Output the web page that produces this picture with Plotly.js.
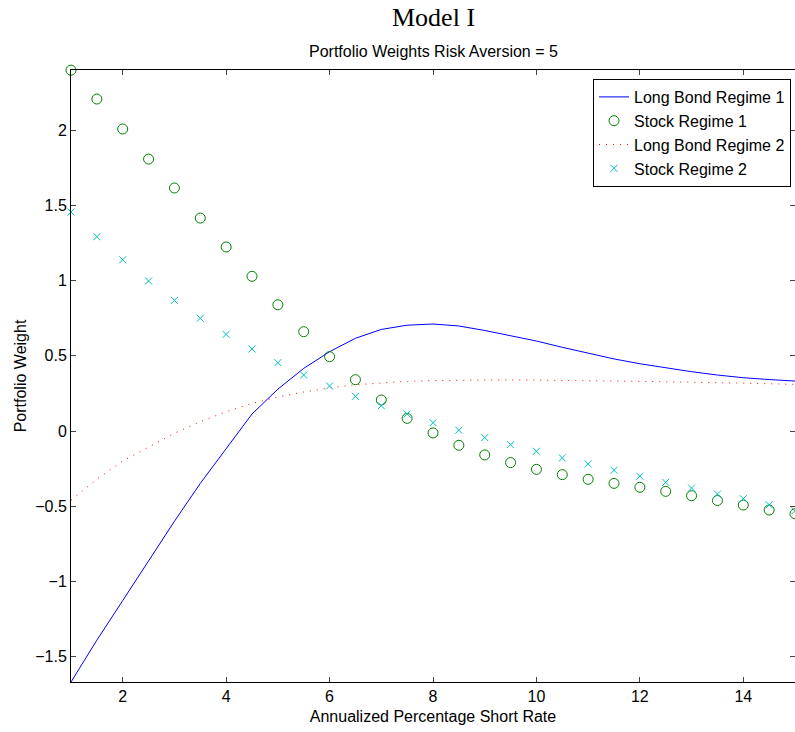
<!DOCTYPE html>
<html>
<head>
<meta charset="utf-8">
<script src="https://cdn.plot.ly/plotly-3.0.1.min.js"></script>
<style>html,body{margin:0;padding:0;background:#fff;}#chart{width:795px;height:732px;}</style>
</head>
<body>
<div id="chart"></div>
<script>
const shortRate = [1,1.5,2,2.5,3,3.5,4,4.5,5,5.5,6,6.5,7,7.5,8,8.5,9,9.5,10,10.5,11,11.5,12,12.5,13,13.5,14,14.5,15];
const longBondRegime1 = [-1.668,-1.39,-1.127,-0.86,-0.600,-0.348,-0.116,0.113,0.278,0.416,0.527,0.616,0.675,0.703,0.711,0.698,0.668,0.635,0.598,0.556,0.516,0.479,0.447,0.418,0.394,0.372,0.354,0.342,0.332];
const stockRegime1 = [2.398,2.206,2.007,1.807,1.615,1.415,1.223,1.028,0.839,0.660,0.494,0.341,0.206,0.084,-0.013,-0.095,-0.159,-0.210,-0.255,-0.290,-0.321,-0.348,-0.374,-0.401,-0.430,-0.462,-0.492,-0.525,-0.55];
const longBondRegime2 = [-0.46,-0.32,-0.20,-0.105,-0.015,0.062,0.128,0.183,0.226,0.259,0.287,0.307,0.321,0.330,0.335,0.338,0.340,0.340,0.338,0.337,0.335,0.333,0.330,0.327,0.325,0.322,0.318,0.314,0.31];
const stockRegime2 = [1.455,1.291,1.138,0.997,0.868,0.749,0.642,0.545,0.454,0.372,0.299,0.230,0.168,0.113,0.055,0.005,-0.044,-0.091,-0.135,-0.179,-0.219,-0.261,-0.301,-0.341,-0.379,-0.419,-0.450,-0.49,-0.53];

const seriesNames = ['Long Bond Regime 1','Stock Regime 1','Long Bond Regime 2','Stock Regime 2'];
const mainTitle = 'Model I';
const subTitle = 'Portfolio Weights Risk Aversion = 5';
const xTitle = 'Annualized Percentage Short Rate';
const yTitle = 'Portfolio Weight';
const xTicks = [2,4,6,8,10,12,14];
const yTicks = [-1.5,-1,-0.5,0,0.5,1,1.5,2];

const sans = 'Liberation Sans, Arial, sans-serif';
const FS = 16;

const traces = [
  {x: shortRate, y: longBondRegime1, name: seriesNames[0], type: 'scatter', mode: 'lines',
   line: {color: '#0000ff', width: 1}},
  {x: shortRate, y: stockRegime1, name: seriesNames[1], type: 'scatter', mode: 'markers',
   marker: {symbol: 'circle-open', size: 10, color: '#008000', line: {width: 1, color: '#008000'}}, cliponaxis: false},
  {x: shortRate, y: longBondRegime2, name: seriesNames[2], type: 'scatter', mode: 'lines',
   line: {color: '#ff0000', width: 1, dash: '1px,6px'}},
  {x: shortRate, y: stockRegime2, name: seriesNames[3], type: 'scatter', mode: 'markers',
   marker: {symbol: 'x-thin-open', size: 7, color: '#00bfbf', line: {width: 1, color: '#00bfbf'}}, cliponaxis: false}
];

const layout = {
  width: 795, height: 732,
  margin: {l: 71, r: 0, t: 70, b: 50, pad: 0},
  paper_bgcolor: '#fff', plot_bgcolor: '#fff',
  font: {family: sans, size: FS, color: '#000'},
  showlegend: true,
  legend: {x: 0.9945, xanchor: 'right', y: 0.9853, yanchor: 'top',
    bgcolor: '#fff', bordercolor: '#000', borderwidth: 1,
    font: {family: sans, size: FS, color: '#000'}, itemwidth: 30, tracegroupgap: 0},
  xaxis: {range: [1, 15], tickvals: xTicks, ticks: 'inside', ticklen: 5,
    showline: true, linecolor: '#000', linewidth: 1, mirror: 'ticks', showgrid: false, zeroline: false,
    tickfont: {family: sans, size: FS}, title: {text: xTitle, font: {family: sans, size: FS}, standoff: 6}},
  yaxis: {range: [-1.668, 2.399], tickvals: yTicks, ticks: 'inside', ticklen: 5,
    showline: true, linecolor: '#000', linewidth: 1, mirror: 'ticks', showgrid: false, zeroline: false,
    tickfont: {family: sans, size: FS}, title: {text: yTitle, font: {family: sans, size: FS}, standoff: 4}},
  annotations: [
    {text: mainTitle, xref: 'paper', yref: 'paper', x: 0.5, y: (682 - 17) / 612, yanchor: 'middle',
     showarrow: false, font: {family: 'Liberation Serif, Times New Roman, serif', size: 26, color: '#000'}},
    {text: subTitle, xref: 'paper', yref: 'paper', x: 0.5, y: (682 - 51) / 612, yanchor: 'middle',
     showarrow: false, font: {family: sans, size: FS, color: '#000'}}
  ]
};

Plotly.newPlot('chart', traces, layout, {displayModeBar: false, staticPlot: true});
</script>
</body>
</html>
